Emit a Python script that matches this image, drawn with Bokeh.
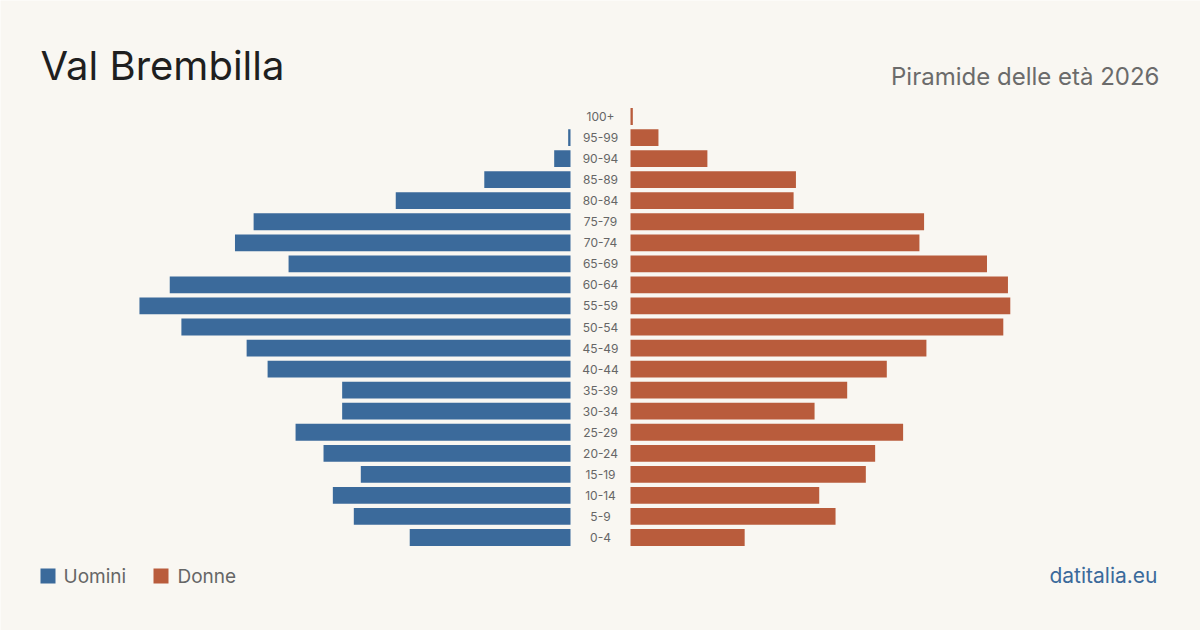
from bokeh.plotting import figure
from bokeh.models import Range1d, Label, ColumnDataSource
from bokeh.embed import file_html
from bokeh.resources import INLINE
from bokeh.core.properties import value

age_groups = ["0-4", "5-9", "10-14", "15-19", "20-24", "25-29", "30-34", "35-39",
              "40-44", "45-49", "50-54", "55-59", "60-64", "65-69", "70-74", "75-79",
              "80-84", "85-89", "90-94", "95-99", "100+"]
uomini = [69, 93, 102, 90, 106, 118, 98, 98, 130, 139, 167, 185, 172, 121, 144, 136,
          75, 37, 7, 1, 0]
donne = [49, 88, 81, 101, 105, 117, 79, 93, 110, 127, 160, 163, 162, 153, 124, 126,
         70, 71, 33, 12, 1]

W, H = 1200, 630
SX = 2.33      # px per person
SY = 21.05     # px per row
GAP = 30 / SX  # half gap in data units
X0 = -600 / SX
Y_TOP = 537 / SY

def dx(px):
    return X0 + px / SX

def dy(py):
    return Y_TOP - py / SY

BG = "#f9f7f2"
BLUE = "#3b6a9b"
ORANGE = "#b95c3c"
FONT = "Inter"

p = figure(width=W, height=H, output_backend="svg", toolbar_location=None,
           x_range=Range1d(X0, -X0), y_range=Range1d(Y_TOP - H / SY, Y_TOP),
           min_border=0, outline_line_color=None)
p.background_fill_color = BG
p.border_fill_color = BG
p.xaxis.visible = False
p.yaxis.visible = False
p.grid.visible = False

idx = list(range(len(age_groups)))
src = ColumnDataSource(dict(
    y=idx,
    mleft=[-GAP - v for v in uomini],
    mright=[-GAP] * len(idx),
    fleft=[GAP] * len(idx),
    fright=[GAP + v for v in donne],
    label=age_groups,
    x0=[0] * len(idx),
))

p.hbar(y="y", left="mleft", right="mright", height=0.8, source=src,
       fill_color=BLUE, line_color=None)
p.hbar(y="y", left="fleft", right="fright", height=0.8, source=src,
       fill_color=ORANGE, line_color=None)
p.text(x="x0", y="y", text="label", source=src, text_align="center",
       text_baseline="middle", text_font_size="12px", text_color="#666666",
       text_font=value(FONT))

def lab(px, py, text, size, color, align="left"):
    # py is the desired baseline in screen px; compensate renderer offset
    p.add_layout(Label(x=dx(px), y=dy(py - 0.38 * size), text=text,
                       text_font=FONT, text_font_size=f"{size}px",
                       text_color=color, text_align=align,
                       text_baseline="alphabetic"))

lab(40, 80, "Val Brembilla", 40, "#1f1f1f")
lab(1159, 85, "Piramide delle età 2026", 24, "#6b6b6b", "right")

# legend
p.rect(x=[dx(47.5), dx(160.5)], y=[dy(575.5), dy(575.5)], width=15 / SX,
       height=15 / SY, fill_color=[BLUE, ORANGE], line_color=None)
lab(63, 583, "Uomini", 19, "#666666")
lab(177, 583, "Donne", 19, "#666666")
lab(1157, 583, "datitalia.eu", 21, BLUE, "right")

open("out.html", "w").write(file_html(p, INLINE))
